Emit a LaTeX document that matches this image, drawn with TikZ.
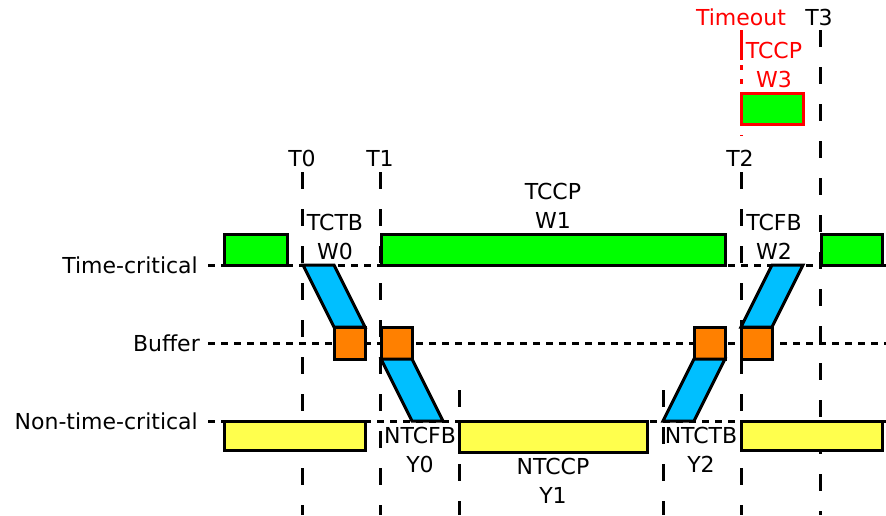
\documentclass[tikz,border=0pt]{standalone}
\usepackage{fontspec}
\setmainfont{DejaVu Sans}
\usetikzlibrary{calc}
\definecolor{tcgreen}{RGB}{0,255,0}
\definecolor{buforange}{RGB}{255,128,0}
\definecolor{xferblue}{RGB}{0,191,255}
\definecolor{ntcyellow}{RGB}{255,255,77}
\tikzset{slot/.style={fill=#1,draw=black,line width=3pt},slot/.default=tcgreen}
\tikzset{timeline/.style={color=#1,line width=3pt,dash pattern=on 17pt off 20pt},timeline/.default=black}
\tikzset{rowline/.style={color=#1,line width=3pt,dash pattern=on 7pt off 6pt},rowline/.default=black}
\tikzset{tag/.style={color=#1,align=center,inner sep=0pt,font=\fontsize{22}{29}\selectfont},tag/.default=black}

\begin{document}
\begin{tikzpicture}[x=1pt,y=-1pt]
	\useasboundingbox (0,0) rectangle (886,515);
	
	\foreach \y in {265,343,421}
		\draw [rowline] (208,\y) -- (886,\y);
	\foreach \x/\top in {302/172,380/172,741/172,820/30,459/390,663/390}
		\draw [timeline] (\x,\top) -- (\x,515);
	\draw [red,line width=3pt] (741,30) -- (741,60);
	\draw [timeline=red,dash pattern=on 5pt off 9pt] (741,65) -- (741,136);
	
	\draw [slot] (224,234) rectangle (287,265);
	\draw [slot] (381,234) rectangle (725,265);
	\draw [slot] (821,234) rectangle (882,265);
	\draw [slot,draw=red] (741,93) rectangle (803,124);
	
	\draw [slot=buforange] (334,327) rectangle (365,359);
	\draw [slot=buforange] (381,327) rectangle (412,359);
	\draw [slot=buforange] (694,327) rectangle (725,359);
	\draw [slot=buforange] (741,327) rectangle (772,359);
	
	\draw [slot=ntcyellow] (224,421) rectangle (365,450);
	\draw [slot=ntcyellow] (459,421) rectangle (647,452);
	\draw [slot=ntcyellow] (741,421) rectangle (882,450);
	
	\draw [slot=xferblue] (303,265) -- (334,265) -- (365,327) -- (334,327) -- cycle;
	\draw [slot=xferblue] (381,359) -- (412,359) -- (443,421) -- (412,421) -- cycle;
	\draw [slot=xferblue] (663,421) -- (694,421) -- (725,359) -- (694,359) -- cycle;
	\draw [slot=xferblue] (741,327) -- (772,327) -- (803,265) -- (772,265) -- cycle;
	
	\node [tag,anchor=base east] (tcrow) at (198,273) {Time-critical};
	\node [tag,anchor=base east] (bufrow) at (200,351) {Buffer};
	\node [tag,anchor=base east] (ntcrow) at (198,429) {Non-time-critical};
	
	\node [tag,anchor=base] (t0) at (302,166) {T0};
	\node [tag,anchor=base] (t1) at (380,166) {T1};
	\node [tag,anchor=base] (t2) at (740,166) {T2};
	\node [tag,anchor=base] (t3) at (819,25) {T3};
	\node [tag=red,anchor=base] (timeout) at (741,25) {Timeout};
	
	\node [tag] (tctb) at (335,237) {TCTB\\W0};
	\node [tag] (tccp) at (553,206) {TCCP\\W1};
	\node [tag] (tcfb) at (774,237) {TCFB\\W2};
	\node [tag=red] (tccpred) at (774,65) {TCCP\\W3};
	\node [tag] (ntcfb) at (420,450) {NTCFB\\Y0};
	\node [tag] (ntccp) at (553,481) {NTCCP\\Y1};
	\node [tag] (ntctb) at (701,450) {NTCTB\\Y2};
\end{tikzpicture}
\end{document}
